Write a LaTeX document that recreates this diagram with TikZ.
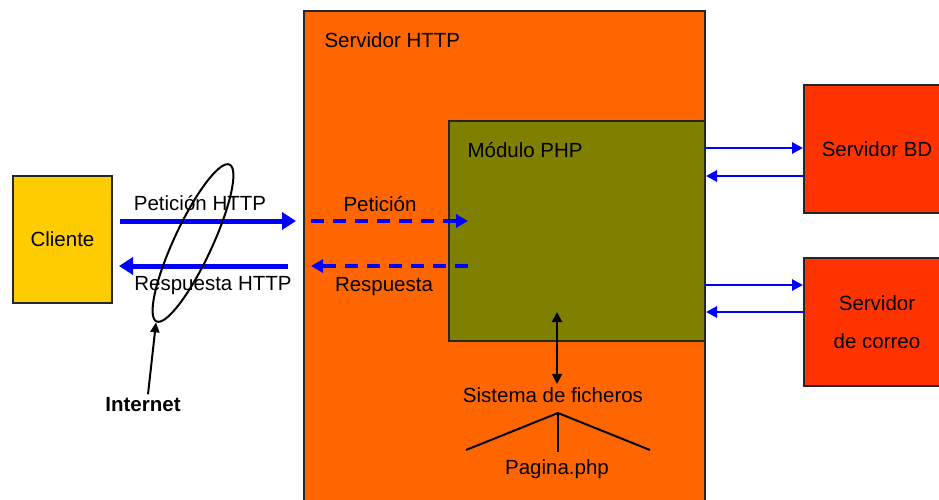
\documentclass[tikz,border=0pt]{standalone}
\usepackage{fontspec}
\setmainfont{Liberation Sans}
\usepackage{tikz}
\usetikzlibrary{positioning, arrows.meta, shapes.geometric}

\definecolor{naranja}{HTML}{FF6600}
\definecolor{oliva}{HTML}{808000}
\definecolor{amarillo}{HTML}{FFCC00}
\definecolor{rojo}{HTML}{FF3300}
\definecolor{azul}{HTML}{0000FF}

\tikzset{
  caja/.style={draw=black!85, line width=2pt, anchor=north west, inner sep=0pt, align=center},
  gruesa/.style={azul, line width=5pt, -{Triangle[length=14pt,width=17pt]}},
  punteada/.style={azul, line width=4.5pt, dash pattern=on 13pt off 9pt, -{Triangle[length=12pt,width=13pt]}},
  fina/.style={azul, line width=2.8pt, -{Triangle[length=11pt,width=11pt]}},
  negra/.style={black, line width=2pt}
}

\begin{document}
\begin{tikzpicture}[x=1pt, y=-1pt, font=\fontsize{20.5}{24}\selectfont]
\useasboundingbox (0,0) rectangle (939,499);

% cajas
\node[caja, fill=naranja, minimum width=401pt, minimum height=520pt] (http) at (303,10) {};
\node[caja, fill=oliva, minimum width=256pt, minimum height=220pt] (php) at (448,120) {};
\node[caja, fill=amarillo, minimum width=99pt, minimum height=127pt] (cliente) at (12,175) {Cliente};
\node[caja, fill=rojo, minimum width=146pt, minimum height=128pt] (bd) at (803,84) {Servidor BD};
\node[caja, fill=rojo, minimum width=146pt, minimum height=128pt,
      font=\fontsize{20.5}{38}\selectfont] (correo) at (803,257) {Servidor\\de correo};

\node[anchor=west] (t_http) at (321,40) {Servidor HTTP};
\node[anchor=west] (t_php) at (464,150) {Módulo PHP};

% peticion y respuesta
\coordinate (c1) at (120,221);
\coordinate (h1) at (296,221);
\coordinate (h2) at (288,266);
\coordinate (c2) at (119,266);
\draw[gruesa] (c1) -- (h1);
\draw[gruesa] (h2) -- (c2);
\node (t_pet) at (200,203) {Petición HTTP};
\node (t_res) at (213,286) {Respuesta HTTP};

\coordinate (d1) at (311,221);
\coordinate (m1) at (468,221);
\coordinate (m2) at (468,266);
\coordinate (d2) at (311,266);
\draw[punteada] (d1) -- (m1);
\draw[punteada] (m2) -- (d2);
\node (t_pet2) at (380,204) {Petición};
\node (t_res2) at (384,287) {Respuesta};

% internet
\node[draw, ellipse, line width=2pt, rotate=65, minimum width=173pt,
      minimum height=38pt, inner sep=0pt] (red) at (193,243) {};
\node[font=\fontsize{20.5}{24}\selectfont\bfseries] (internet) at (143,405) {Internet};
\draw[negra, -{Triangle[length=10pt,width=9pt]}] ([xshift=5pt]internet.north) -- (red.west);

% servidores
\draw[fina] (php.east |- 0,148) -- (bd.west |- 0,148);
\draw[fina] (bd.west |- 0,176) -- (php.east |- 0,176);
\draw[fina] (php.east |- 0,285) -- (correo.west |- 0,285);
\draw[fina] (correo.west |- 0,312) -- (php.east |- 0,312);

% sistema de ficheros
\node (sf) at (553,395) {Sistema de ficheros};
\coordinate (fs1) at (557,312);
\draw[negra, {Triangle[length=10pt,width=10pt]}-{Triangle[length=10pt,width=10pt]}] (fs1) -- (fs1 |- sf.north);

\coordinate (raiz) at (558,413);
\coordinate (hi) at (466,450);
\coordinate (hd) at (650,450);
\coordinate (hm) at (558,452);
\draw[negra] (hi) -- (raiz) -- (hd);
\draw[negra] (raiz) -- (hm);
\node (pag) at (557,469) {Pagina.php};
\end{tikzpicture}
\end{document}
